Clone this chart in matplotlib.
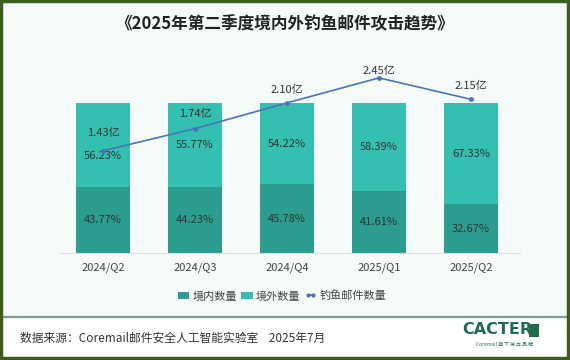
import matplotlib
matplotlib.use("Agg")
import matplotlib.pyplot as plt
from matplotlib.patches import Rectangle, Patch
from matplotlib.lines import Line2D

plt.rcParams['font.family'] = ['Noto Sans CJK SC', 'DejaVu Sans']

quarters = ["2024/Q2", "2024/Q3", "2024/Q4", "2025/Q1", "2025/Q2"]
domestic_pct = [43.77, 44.23, 45.78, 41.61, 32.67]
foreign_pct = [56.23, 55.77, 54.22, 58.39, 67.33]
total_yi = [1.43, 1.74, 2.10, 2.45, 2.15]

c_dom = "#2a9d8f"
c_for = "#34c0b1"
c_line = "#4a74b8"
c_text = "#333333"

fig = plt.figure(figsize=(5.7, 3.6), dpi=100)
fig.patch.set_facecolor("white")

# background panel
fig.add_artist(Rectangle((0, 44/360), 1, 1 - 44/360, transform=fig.transFigure,
                         facecolor="#f5fbf9", edgecolor="none", zorder=0))
# footer divider
fig.add_artist(Line2D([0.005, 0.995], [1 - 317/360]*2, transform=fig.transFigure,
                      color="#7d9b8c", lw=1.6, zorder=1))
# outer border
fig.add_artist(Rectangle((0.0025, 0.004), 0.995, 0.992, transform=fig.transFigure,
                         facecolor="none", edgecolor="#3b5e1f", lw=3.2, zorder=5))

ax = fig.add_axes([60/570, 1 - 253/360, 460/570, 193/360])
ax.set_facecolor("none")
x = list(range(len(quarters)))
w = 0.58
ax.bar(x, domestic_pct, width=w, color=c_dom, zorder=2)
ax.bar(x, foreign_pct, width=w, bottom=domestic_pct, color=c_for, zorder=2)
ax.set_xlim(-0.467, 4.533)
ax.set_ylim(0, 128.7)
ax.set_yticks([])
for s in ["top", "right", "left"]:
    ax.spines[s].set_visible(False)
ax.spines["bottom"].set_color("#dddddd")
ax.spines["bottom"].set_linewidth(0.8)
ax.set_xticks(x)
ax.set_xticklabels(quarters, fontsize=8, color="#444444")
ax.tick_params(axis="x", length=0, pad=7)

up_shift = [-11, 0, 0, 0, 0]
for i in x:
    ax.text(i, domestic_pct[i] / 2, f"{domestic_pct[i]:.2f}%", ha="center", va="center",
            fontsize=8, color=c_text, zorder=3)
    ax.annotate(f"{foreign_pct[i]:.2f}%", (i, domestic_pct[i] + foreign_pct[i] / 2),
                xytext=(0, up_shift[i]), textcoords="offset pixels",
                ha="center", va="center", fontsize=8, color=c_text, zorder=3)

ax2 = ax.twinx()
ax2.set_ylim(0, 2.70)
ax2.set_yticks([])
for s in ax2.spines.values():
    s.set_visible(False)
ax2.plot(x, total_yi, color=c_line, lw=1.2, marker="o", ms=2.5, zorder=4)
lbl_off = [18, 15, 13, 7, 13]
for i in x:
    ax2.annotate(f"{total_yi[i]:.2f}亿", (i, total_yi[i]), xytext=(0, lbl_off[i]),
                 textcoords="offset pixels", ha="center", va="center",
                 fontsize=8, color=c_text, zorder=5)

handles = [Patch(facecolor=c_dom), Patch(facecolor=c_for),
           Line2D([], [], color=c_line, lw=1.2, marker="o", ms=2.0)]
fig.legend(handles, ["境内数量", "境外数量", "钓鱼邮件数量"], loc="center",
           bbox_to_anchor=(282/570, 1 - 296/360), ncol=3, frameon=False,
           fontsize=8, handlelength=1.0, handleheight=0.7, handletextpad=0.3,
           columnspacing=0.4, labelcolor="#444444", numpoints=2)

fig.text(0.5, 1 - 24/360, "《2025年第二季度境内外钓鱼邮件攻击趋势》", ha="center", va="center",
         fontsize=12, fontweight="bold", color="#222222")
fig.text(20/570, 1 - 338/360, "数据来源：Coremail邮件安全人工智能实验室    2025年7月",
         ha="left", va="center", fontsize=8.5, color="#333333")
fig.text(497/570, 1 - 330/360, "CACTER", ha="center", va="center", fontsize=11.5,
         fontweight="bold", color="#1e6b4e", family=["DejaVu Sans"])
fig.add_artist(Rectangle((529/570, 1 - 337/360), 10/570, 13/360, transform=fig.transFigure,
                         facecolor="#1e6b4e", edgecolor="none"))
fig.text(504/570, 1 - 344/360, "Coremail 旗 下 独 立 品 牌", ha="center", va="center",
         fontsize=3.5, color="#1e6b4e")

fig.savefig("out.png", dpi=100)
